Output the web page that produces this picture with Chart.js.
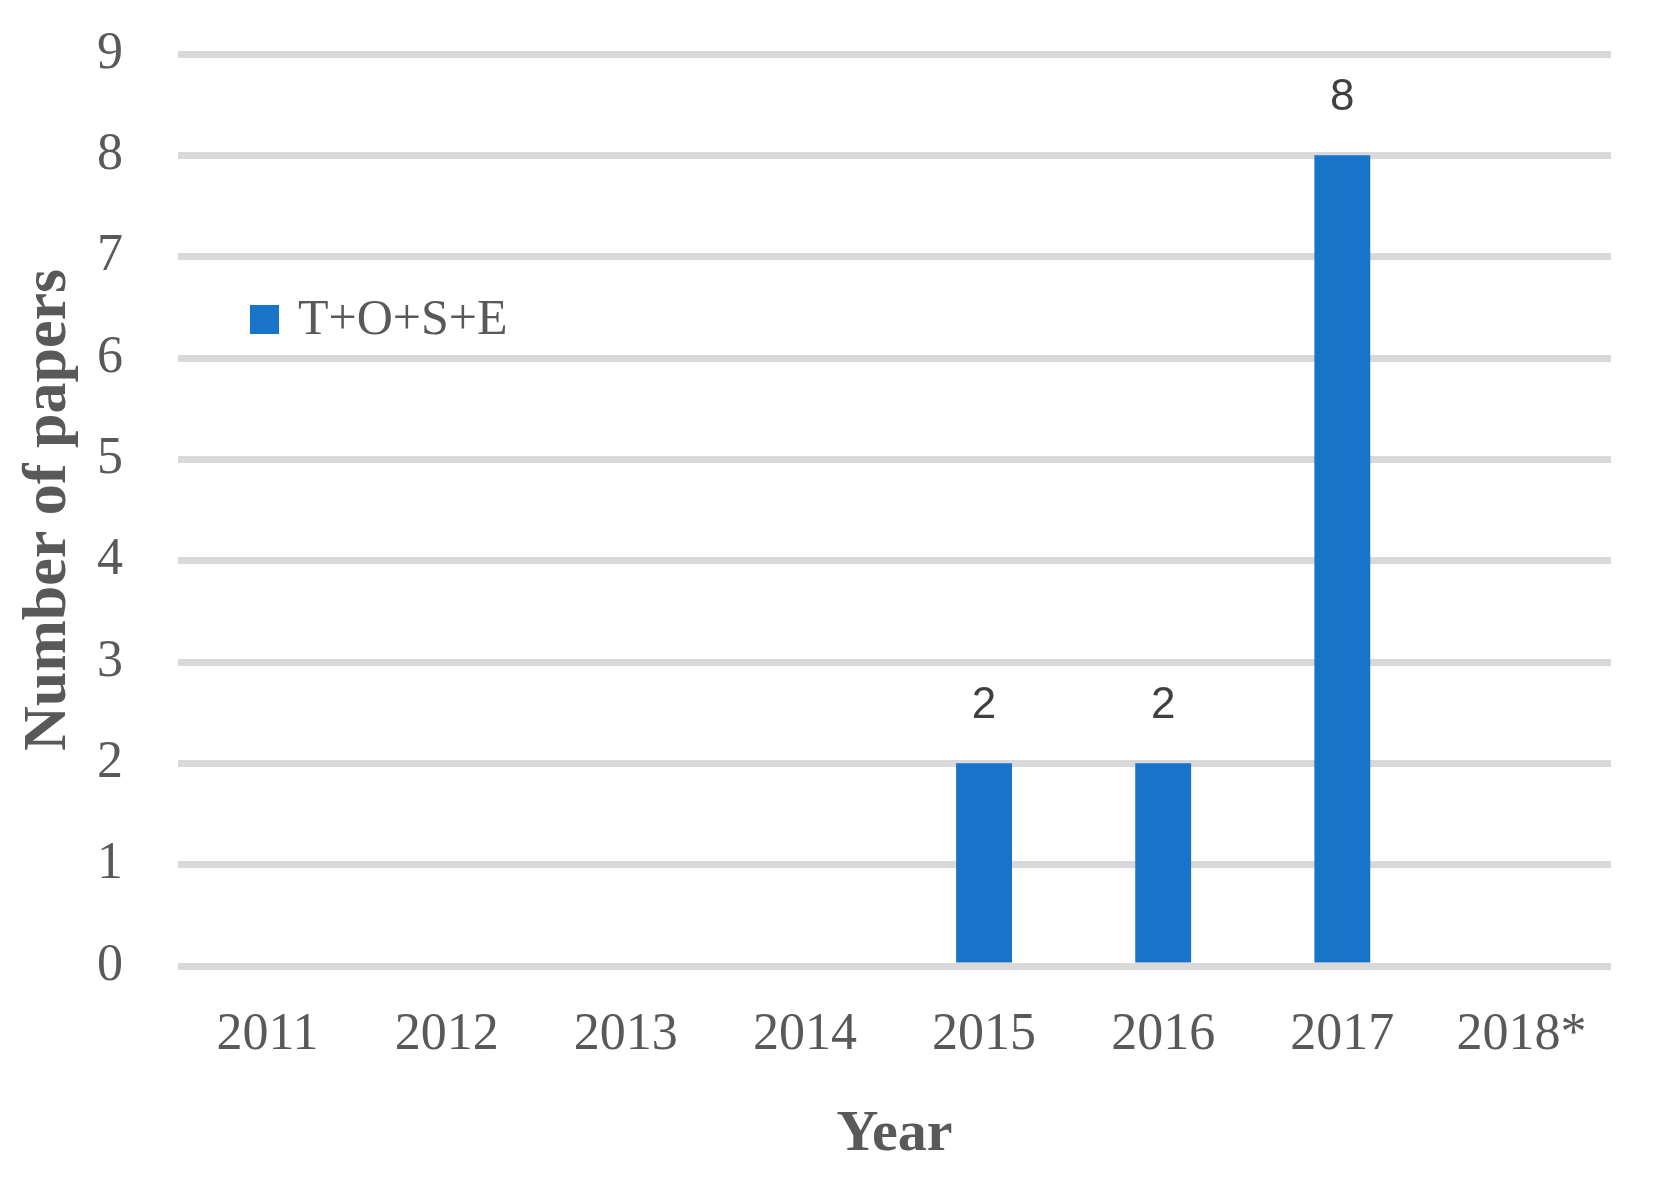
<!DOCTYPE html>
<html>
<head>
<meta charset="utf-8">
<script src="https://cdn.jsdelivr.net/npm/chart.js@4/dist/chart.umd.min.js"></script>
<style>
  html, body { margin: 0; padding: 0; background: #ffffff; }
  #wrap { width: 1653px; height: 1187px; position: relative; }
</style>
</head>
<body>
<div id="wrap"><canvas id="c" width="1653" height="1187"></canvas></div>
<script>
const categories = ["2011", "2012", "2013", "2014", "2015", "2016", "2017", "2018*"];
const seriesName = "T+O+S+E";
const seriesValues = [0, 0, 0, 0, 2, 2, 8, 0];
const yTicks = [0, 1, 2, 3, 4, 5, 6, 7, 8, 9];
const xTitle = "Year";
const yTitle = "Number of papers";

const BAR_COLOR = "#1874c9";
const TEXT_COLOR = "#595959";

const valueLabels = {
  id: "valueLabels",
  afterDatasetsDraw(chart) {
    const ctx = chart.ctx;
    const meta = chart.getDatasetMeta(0);
    ctx.save();
    ctx.font = "44px 'Liberation Sans'";
    ctx.fillStyle = "#404040";
    ctx.textAlign = "center";
    ctx.textBaseline = "alphabetic";
    meta.data.forEach((bar, i) => {
      const v = chart.data.datasets[0].data[i];
      if (v > 0) ctx.fillText(String(v), bar.x, bar.y - 45);
    });
    ctx.restore();
  }
};

const innerLegend = {
  id: "innerLegend",
  afterDraw(chart) {
    const ctx = chart.ctx;
    const a = chart.chartArea;
    const x = a.left + 72, y = a.top + 265;
    ctx.save();
    ctx.fillStyle = chart.data.datasets[0].backgroundColor;
    ctx.fillRect(x, y - 14, 29, 29);
    ctx.font = "50px 'Liberation Serif'";
    ctx.fillStyle = TEXT_COLOR;
    ctx.textAlign = "left";
    ctx.textBaseline = "middle";
    ctx.fillText(chart.data.datasets[0].label, x + 48, y + 2);
    ctx.restore();
  }
};

new Chart(document.getElementById("c"), {
  type: "bar",
  data: {
    labels: categories,
    datasets: [{
      label: seriesName,
      data: seriesValues,
      backgroundColor: BAR_COLOR,
      borderWidth: 0,
      categoryPercentage: 1.0,
      barPercentage: 0.312
    }]
  },
  options: {
    responsive: false,
    animation: false,
    events: [],
    layout: { padding: { left: 0, right: 42, top: 54, bottom: 0 } },
    plugins: {
      legend: { display: false },
      tooltip: { enabled: false },
      title: { display: false }
    },
    scales: {
      x: {
        grid: { display: false, drawTicks: false },
        border: { display: false },
        ticks: {
          color: TEXT_COLOR,
          font: { family: "Liberation Serif", size: 52 },
          padding: 38,
          maxRotation: 0,
          autoSkip: false
        },
        title: {
          display: true,
          text: xTitle,
          color: TEXT_COLOR,
          font: { family: "Liberation Serif", size: 58, weight: "bold" },
          padding: { top: 0, bottom: 17 }
        },
        afterFit(scale) { scale.height = 221; scale.paddingLeft = 0; scale.paddingRight = 0; }
      },
      y: {
        min: 0,
        max: 9,
        afterBuildTicks(scale) { scale.ticks = yTicks.map(v => ({ value: v })); },
        grid: { color: "#d9d9d9", lineWidth: 7, drawTicks: false },
        border: { display: false },
        ticks: {
          color: TEXT_COLOR,
          font: { family: "Liberation Serif", size: 52 },
          padding: 55
        },
        title: {
          display: true,
          text: yTitle,
          color: TEXT_COLOR,
          font: { family: "Liberation Serif", size: 62, weight: "bold" },
          padding: { top: 12, bottom: 0 }
        },
        afterFit(scale) { scale.width = 178; scale.paddingTop = 0; scale.paddingBottom = 0; }
      }
    }
  },
  plugins: [valueLabels, innerLegend]
});
</script>
</body>
</html>
